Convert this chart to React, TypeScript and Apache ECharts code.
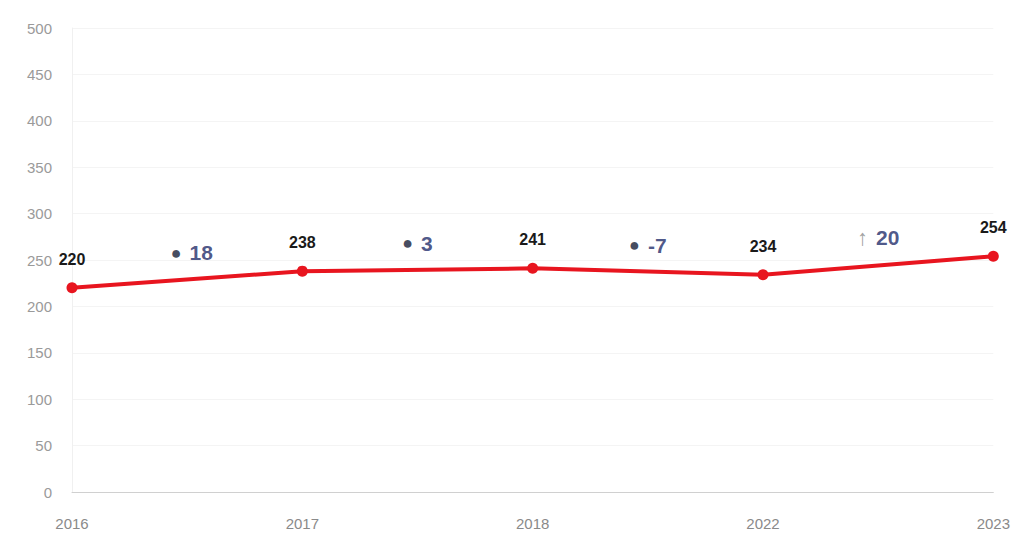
import React, { useEffect, useRef } from "react";
import * as echarts from "echarts";

const categories = ["2016", "2017", "2018", "2022", "2023"];
const values = [220, 238, 241, 234, 254];
const changePositions = [0.52, 1.5, 2.5, 3.5];
const changeHeights = [258, 268, 266, 274];
const changeLabels = ["18", "3", "-7", "20"];
const changeMarkers = ["dot", "dot", "dot", "arrow"];

export default function App() {
  const ref = useRef<HTMLDivElement>(null);
  useEffect(() => {
    if (!ref.current) return;
    const chart = echarts.init(ref.current, undefined, { renderer: "svg" });
    const changeData = changePositions.map((p, i) => ({
      value: [p, changeHeights[i]],
      label: {
        formatter:
          changeMarkers[i] === "arrow"
            ? `{arrow|↑}{num|${changeLabels[i]}}`
            : `{dot|●}{num|${changeLabels[i]}}`,
      },
    }));
    chart.setOption({
      animation: false,
      backgroundColor: "#ffffff",
      grid: { left: 64, right: 14, top: 20, bottom: 39 },
      xAxis: [
        {
          type: "category",
          data: categories,
          boundaryGap: false,
          axisLine: { lineStyle: { color: "#d0d0d0", width: 1 } },
          axisTick: { show: false },
          axisLabel: { color: "#8a8a8a", fontSize: 15, margin: 24, fontFamily: "Liberation Sans Narrow, Arial, sans-serif" },
          splitLine: { show: false },
        },
        {
          type: "value",
          min: 0,
          max: categories.length - 1,
          show: false,
        },
      ],
      yAxis: {
        type: "value",
        min: 0,
        max: 500,
        interval: 50,
        axisLine: { show: true, lineStyle: { color: "#f0f0f0" } },
        axisTick: { show: false },
        axisLabel: { color: "#9a9a9a", fontSize: 15, margin: 20, fontFamily: "Liberation Sans Narrow, Arial, sans-serif" },
        splitLine: { lineStyle: { color: "#f4f4f4", width: 1 } },
      },
      series: [
        {
          type: "line",
          data: values,
          xAxisIndex: 0,
          color: "#e8151f",
          lineStyle: { color: "#e8151f", width: 4 },
          symbol: "circle",
          symbolSize: 11,
          itemStyle: { color: "#e8151f" },
          label: {
            show: true,
            position: "top",
            distance: 15,
            color: "#1a1a1a",
            fontSize: 16,
            fontWeight: "bold",
            fontFamily: "Arial, Liberation Sans, sans-serif",
          },
        },
        {
          type: "scatter",
          xAxisIndex: 1,
          data: changeData,
          symbolSize: 0,
          label: {
            show: true,
            position: "inside",
            rich: {
              dot: { color: "#141c35", fontSize: 18, padding: [0, 8, 0, 0] },
              arrow: { color: "#8a8a8a", fontSize: 22, padding: [0, 8, 0, 0] },
              num: { color: "#1f2c6a", fontSize: 21, fontWeight: "bold", fontFamily: "Arial, Liberation Sans, sans-serif" },
            },
          },
        },
      ],
    });
    return () => chart.dispose();
  }, []);
  return <div ref={ref} style={{ width: 1005, height: 523 }} />;
}
